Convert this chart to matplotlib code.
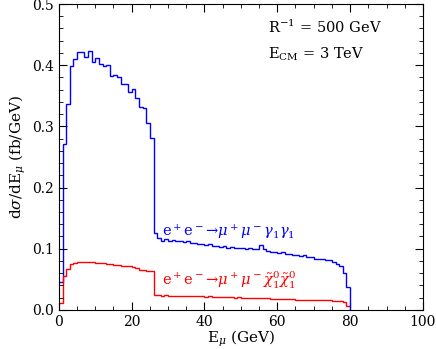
import numpy as np
import matplotlib
matplotlib.use("Agg")
import matplotlib.pyplot as plt
from matplotlib.ticker import MultipleLocator, FormatStrFormatter

plt.rcParams['font.family'] = ['DejaVu Serif']
plt.rcParams['mathtext.fontset'] = 'dejavuserif'

# bin edges in GeV (1 GeV bins from 0 to 80)
edges = np.arange(0, 81, 1)

blue_vals = [
    0.045, 0.271, 0.337, 0.398, 0.410, 0.421, 0.422, 0.413, 0.424, 0.406,
    0.412, 0.402, 0.399, 0.401, 0.382, 0.384, 0.381, 0.369, 0.369, 0.356,
    0.361, 0.346, 0.331, 0.330, 0.306, 0.281,
    0.125, 0.118, 0.113, 0.116, 0.113, 0.115, 0.112, 0.113, 0.111, 0.112,
    0.109, 0.110, 0.107, 0.108, 0.106, 0.107, 0.104, 0.105, 0.103, 0.104,
    0.102, 0.103, 0.101, 0.102, 0.101, 0.100, 0.101, 0.099, 0.100, 0.106,
    0.099, 0.097, 0.094, 0.095, 0.093, 0.094, 0.091, 0.092, 0.090, 0.090,
    0.088, 0.089, 0.086, 0.086, 0.084, 0.083, 0.083, 0.082, 0.081, 0.079,
    0.075, 0.071, 0.060, 0.038,
]

red_vals = [
    0.012, 0.055, 0.067, 0.075, 0.076, 0.078, 0.078, 0.079, 0.078, 0.078,
    0.077, 0.077, 0.076, 0.075, 0.075, 0.074, 0.074, 0.072, 0.072, 0.071,
    0.070, 0.068, 0.066, 0.065, 0.064, 0.063,
    0.0245, 0.024, 0.0235, 0.024, 0.023, 0.0235, 0.023, 0.023, 0.0225, 0.023,
    0.022, 0.0225, 0.022, 0.022, 0.0215, 0.022, 0.021, 0.0215, 0.021, 0.021,
    0.0205, 0.021, 0.020, 0.0205, 0.020, 0.020, 0.0195, 0.020, 0.019, 0.0195,
    0.019, 0.019, 0.0185, 0.0185, 0.018, 0.018, 0.018, 0.0175, 0.0175, 0.017,
    0.017, 0.017, 0.0165, 0.0165, 0.016, 0.016, 0.016, 0.0155, 0.0155, 0.015,
    0.015, 0.014, 0.013, 0.007,
]

fig = plt.figure(figsize=(4.36, 3.49), dpi=100)
ax = fig.add_axes([0.135, 0.112, 0.835, 0.8765])

ax.stairs(blue_vals, edges, color='#0000ff', lw=1.0, baseline=None)
ax.stairs(red_vals, edges, color='#ff0000', lw=1.0, baseline=None)
# close the distributions at the right edge
ax.vlines(edges[-1], 0, blue_vals[-1], color='#0000ff', lw=1.0)

ax.set_xlim(0, 100)
ax.set_ylim(0, 0.5)
ax.xaxis.set_major_locator(MultipleLocator(20))
ax.xaxis.set_minor_locator(MultipleLocator(5))
ax.yaxis.set_major_locator(MultipleLocator(0.1))
ax.yaxis.set_minor_locator(MultipleLocator(0.02))
ax.yaxis.set_major_formatter(FormatStrFormatter('%.1f'))
ax.tick_params(which='both', direction='in', top=True, right=True, labelsize=10)
ax.tick_params(which='major', length=6)
ax.tick_params(which='minor', length=3)

ax.set_xlabel(r'E$_\mu$ (GeV)', fontsize=11, labelpad=0)
ax.set_ylabel(r'd$\sigma$/dE$_\mu$ (fb/GeV)', fontsize=11, labelpad=3)

ax.text(0.575, 0.905, r'R$^{-1}$ = 500 GeV', transform=ax.transAxes, fontsize=10.5)
ax.text(0.575, 0.82, r'E$_{\rm CM}$ = 3 TeV', transform=ax.transAxes, fontsize=10.5)

ax.text(28.3, 0.121, r'e$^+$e$^-$→$\mu^+\mu^-\gamma_1\gamma_1$',
        color='#0000ff', fontsize=10.5)
ax.text(28.3, 0.040, r'e$^+$e$^-$→$\mu^+\mu^-\tilde{\chi}_1^0\tilde{\chi}_1^0$',
        color='#ff0000', fontsize=10.5)

fig.savefig('out.png', dpi=100)
